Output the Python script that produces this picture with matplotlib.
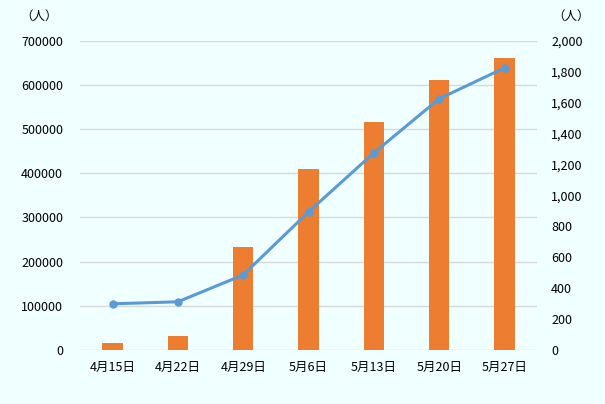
import numpy as np
import matplotlib.pyplot as plt
from matplotlib.ticker import FuncFormatter

plt.rcParams['font.family'] = ['Noto Sans CJK JP', 'DejaVu Sans']

# Données
dates = ['4月15日', '4月22日', '4月29日', '5月6日', '5月13日', '5月20日', '5月27日']
cumulative = [16000, 32000, 233000, 410000, 517000, 612000, 662000]
weekly = [298, 311, 485, 893, 1275, 1625, 1825]

bar_color = '#ED7D31'
line_color = '#5B9BD5'
bg_color = '#F0FFFF'

fig = plt.figure(figsize=(6.05, 4.04), dpi=100, facecolor=bg_color)
ax = fig.add_axes([0.132, 0.134, 0.756, 0.765])
ax.set_facecolor(bg_color)

x = np.arange(len(dates))
ax.bar(x, cumulative, width=0.31, color=bar_color, zorder=2)
ax.set_ylim(0, 700000)
ax.set_yticks(np.arange(0, 700001, 100000))
ax.set_xlim(-0.5, len(dates) - 0.5)
ax.set_xticks(x)
ax.set_xticklabels(dates)
ax.grid(axis='y', color='#D9D9D9', linewidth=1, zorder=0)
ax.tick_params(axis='both', length=0, labelsize=9)
ax.tick_params(axis='x', pad=8)
ax.tick_params(axis='y', pad=12)
for s in ax.spines.values():
    s.set_visible(False)

ax2 = ax.twinx()
ax2.plot(x, weekly, color=line_color, linewidth=2.2, marker='o', markersize=5, zorder=3)
ax2.set_ylim(0, 2000)
ax2.set_yticks(np.arange(0, 2001, 200))
ax2.yaxis.set_major_formatter(FuncFormatter(lambda v, p: f'{int(v):,}'))
ax2.tick_params(axis='y', length=0, labelsize=9, pad=10)
for s in ax2.spines.values():
    s.set_visible(False)

fig.text(20 / 605, 1 - 16 / 404, '（人）', fontsize=9, va='center', ha='left')
fig.text(590 / 605, 1 - 16 / 404, '（人）', fontsize=9, va='center', ha='right')

plt.savefig('out.png', dpi=100, facecolor=bg_color)
plt.close(fig)
